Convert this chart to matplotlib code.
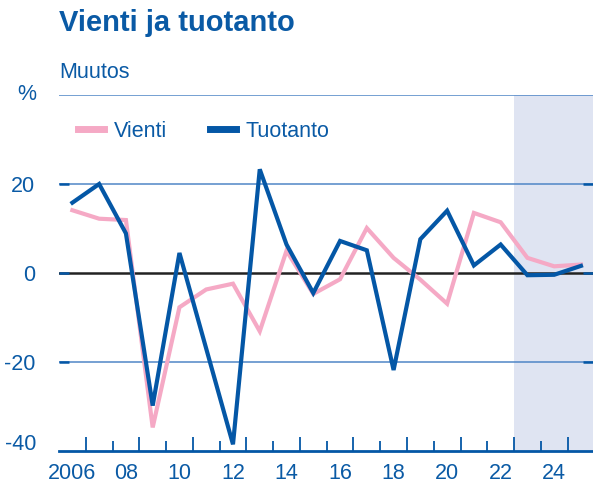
import matplotlib
matplotlib.use("Agg")
import matplotlib.pyplot as plt
from matplotlib.lines import Line2D

years = list(range(2006, 2026))
vienti = [14.1, 12.2, 11.9, -34.7, -7.7, -3.7, -2.4, -13.1, 5.0, -4.7,
          -1.4, 10.1, 3.4, -1.5, -6.9, 13.5, 11.4, 3.4, 1.5, 1.9]
tuotanto = [15.8, 20.0, 8.9, -29.8, 4.5, -17.0, -38.5, 23.3, 6.4, -4.5,
            7.2, 5.1, -21.8, 7.6, 14.0, 1.7, 6.4, -0.5, -0.4, 1.6]
yticks = [20, 0, -20]
ytick_labels = ["20", "0", "-20"]
xlabel_years = list(range(2006, 2025, 2))
xlabels = ["2006"] + [f"{y % 100:02d}" for y in xlabel_years[1:]]
forecast_start = 2022.5

TEXT = "#0a5aa5"
GRID = "#4f86c6"
PINK = "#f5a9c5"
BLUE = "#0457a6"
SHADE = "#dfe4f2"
FS = 15.5

plt.rcParams["font.family"] = ["Liberation Sans", "DejaVu Sans"]

W, H = 593, 488
fig = plt.figure(figsize=(W / 100, H / 100), dpi=100)
ax = fig.add_axes([59 / W, 1 - 451 / H, 1 - 59 / W, (451 - 95) / H])

ax.set_xlim(2005.5, 2025.45)
ax.set_ylim(-40, 40)

ax.axvspan(forecast_start, 2026, color=SHADE, zorder=0, lw=0)
for v in [40, 20, -20]:
    ax.axhline(v, color=GRID, lw=1.1, zorder=1)
ax.axhline(0, color="#222222", lw=1.8, zorder=1)

ax.plot(years, vienti, color=PINK, lw=3, zorder=3, solid_joinstyle="miter")
ax.plot(years, tuotanto, color=BLUE, lw=3, zorder=4, solid_joinstyle="miter")

for s in ["top", "left", "right"]:
    ax.spines[s].set_visible(False)
ax.spines["bottom"].set_color(BLUE)
ax.spines["bottom"].set_linewidth(2)

ax.set_yticks(yticks)
ax.set_yticklabels(ytick_labels)
ax.tick_params(axis="y", direction="in", length=7, width=1.8, color=BLUE,
               left=True, right=True, pad=17, labelsize=FS, labelcolor=TEXT)
# "%" sits on the top gridline, "-40" a little above the bottom axis
ax.annotate("%", xy=(0, 40), xycoords=("axes fraction", "data"),
            xytext=(-23, 0), textcoords="offset pixels", ha="right",
            va="center", fontsize=FS, color=TEXT)
ax.annotate("-40", xy=(0, -40), xycoords=("axes fraction", "data"),
            xytext=(-23, 6), textcoords="offset pixels", ha="right",
            va="center", fontsize=FS, color=TEXT)

major = [y + 0.5 for y in range(2006, 2025, 2)]
minor = [y + 0.5 for y in range(2007, 2025, 2)]
ax.set_xticks(major)
ax.set_xticks(minor, minor=True)
ax.set_xticklabels([])
ax.tick_params(axis="x", which="major", direction="in", length=10, width=1.3,
               color=BLUE)
ax.tick_params(axis="x", which="minor", direction="in", length=7, width=1.3,
               color=BLUE)
for yr, lab in zip(xlabel_years, xlabels):
    ax.annotate(lab, xy=(yr, 0), xycoords=("data", "axes fraction"),
                xytext=(0, -12), textcoords="offset pixels", ha="center",
                va="top", fontsize=FS, color=TEXT)

handles = [Line2D([], [], color=PINK, lw=5), Line2D([], [], color=BLUE, lw=5)]
ax.legend(handles, ["Vienti", "Tuotanto"], loc="center left",
          bbox_to_anchor=(0.012, 0.898), ncol=2, frameon=False, fontsize=FS,
          handlelength=1.2, handletextpad=0.45, columnspacing=2.0,
          labelcolor=TEXT, borderaxespad=0.2)

fig.text(59 / W, 1 - 23 / H, "Vienti ja tuotanto", fontsize=21,
         fontweight="bold", color=TEXT, va="center", ha="left")
fig.text(59 / W, 1 - 73 / H, "Muutos", fontsize=FS, color=TEXT,
         va="center", ha="left")

fig.savefig("out.png", dpi=100)
